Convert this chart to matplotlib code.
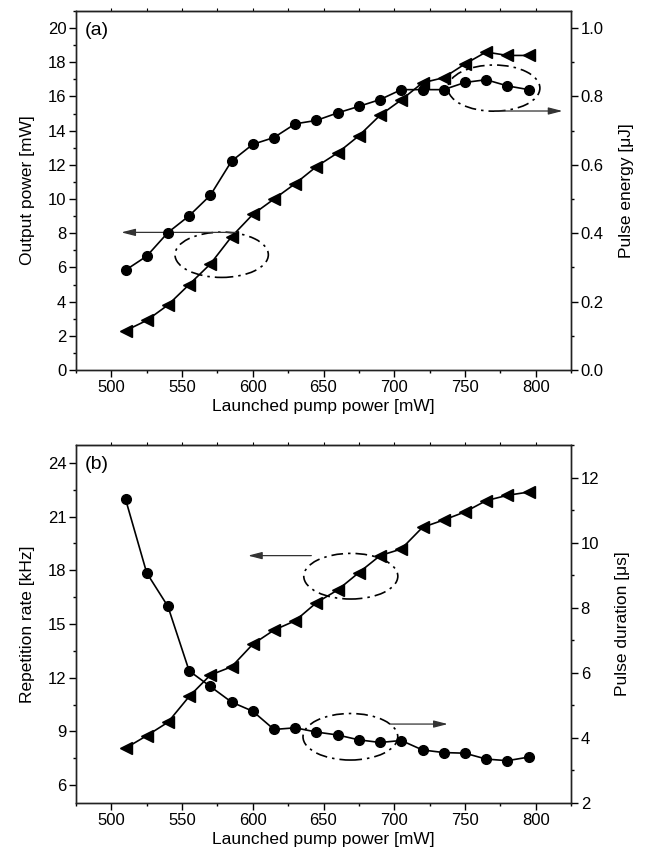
import numpy as np
import matplotlib
matplotlib.use("Agg")
import matplotlib.pyplot as plt
from matplotlib.patches import Ellipse
from matplotlib.ticker import MultipleLocator, FormatStrFormatter

# launched pump power [mW]
pump = [510, 525, 540, 555, 570, 585, 600, 615, 630, 645,
        660, 675, 690, 705, 720, 735, 750, 765, 780, 795]

# (a) output power [mW] (triangles, left) and pulse energy [uJ] (circles, right)
output_power = [2.3, 2.9, 3.8, 5.0, 6.2, 7.8, 9.1, 10.0, 10.9, 11.9,
                12.7, 13.7, 14.9, 15.8, 16.8, 17.1, 17.9, 18.6, 18.4, 18.4]
pulse_energy = [0.292, 0.333, 0.402, 0.451, 0.511, 0.611, 0.660, 0.680, 0.720, 0.730,
                0.752, 0.771, 0.791, 0.820, 0.820, 0.820, 0.841, 0.849, 0.831, 0.820]

# (b) repetition rate [kHz] (triangles, left) and pulse duration [us] (circles, right)
rep_rate = [8.06, 8.76, 9.51, 10.95, 12.15, 12.61, 13.87, 14.66, 15.18, 16.19,
            16.9, 17.87, 18.82, 19.19, 20.4, 20.81, 21.26, 21.89, 22.19, 22.37]
pulse_duration = [11.34, 9.07, 8.04, 6.06, 5.58, 5.10, 4.82, 4.26, 4.31, 4.18,
                  4.09, 3.94, 3.86, 3.92, 3.63, 3.55, 3.53, 3.35, 3.30, 3.41]

plt.rcParams['font.family'] = ['Liberation Sans', 'DejaVu Sans']
plt.rcParams['font.size'] = 12

fig = plt.figure(figsize=(6.47, 8.57), dpi=100)
W, H = 647, 857
ax1 = fig.add_axes([76 / W, 1 - 370 / H, 495 / W, 359 / H])
ax2 = ax1.twinx()
ax3 = fig.add_axes([76 / W, 1 - 803 / H, 495 / W, 358 / H])
ax4 = ax3.twinx()

line_kw = dict(color='k', lw=1.2)
dashdot = (0, (7, 3, 1.5, 3))


def style(ax_l, ax_r, ylim_l, ylim_r, step_l, step_r, fmt_r):
    ax_l.set_xlim(475, 825)
    ax_l.xaxis.set_major_locator(MultipleLocator(50))
    ax_l.xaxis.set_minor_locator(MultipleLocator(25))
    ax_l.set_ylim(*ylim_l)
    ax_r.set_ylim(*ylim_r)
    ax_l.yaxis.set_major_locator(MultipleLocator(step_l))
    ax_l.yaxis.set_minor_locator(MultipleLocator(step_l / 2))
    ax_r.yaxis.set_major_locator(MultipleLocator(step_r))
    ax_r.yaxis.set_minor_locator(MultipleLocator(step_r / 2))
    ax_r.yaxis.set_major_formatter(FormatStrFormatter(fmt_r))
    for a in (ax_l, ax_r):
        a.tick_params(which='major', direction='out', length=5, width=1, pad=2, labelsize=12)
        a.tick_params(which='minor', direction='out', length=2.5, width=1)
        for s in a.spines.values():
            s.set_color('#222222')
            s.set_linewidth(1)
    sec = ax_l.secondary_xaxis('top')
    sec.set_xticks(np.arange(500, 801, 25))
    sec.tick_params(length=2, labeltop=False)
    ax_l.set_xlabel('Launched pump power [mW]', fontsize=12.5, labelpad=3)


def arrow(ax, start, end):
    ax.annotate('', xy=end, xytext=start,
                arrowprops=dict(arrowstyle='-|>,head_length=0.7,head_width=0.18',
                                color='#333333', lw=0.9, shrinkA=0, shrinkB=0))


# ---- (a) ----
ax1.plot(pump, output_power, marker='<', ms=8, **line_kw)
ax2.plot(pump, pulse_energy, marker='o', ms=7, **line_kw)
style(ax1, ax2, (0, 21), (0, 1.05), 2, 0.2, '%.1f')
ax1.set_ylabel('Output power [mW]', fontsize=12.5, labelpad=9)
ax2.set_ylabel('Pulse energy [\u03bcJ]', fontsize=12.5, labelpad=11)
ax1.text(0.018, 0.97, '(a)', transform=ax1.transAxes, ha='left', va='top', fontsize=14)
ax1.add_patch(Ellipse((578, 6.74), 66, 2.65, fill=False, ec='k', lw=1.2, ls=dashdot))
arrow(ax1, (588, 8.05), (507, 8.05))
ax1.add_patch(Ellipse((770.5, 16.49), 65, 2.7, fill=False, ec='k', lw=1.2, ls=dashdot))
arrow(ax1, (771, 15.15), (819, 15.15))

# ---- (b) ----
ax3.plot(pump, rep_rate, marker='<', ms=8, **line_kw)
ax4.plot(pump, pulse_duration, marker='o', ms=7, **line_kw)
style(ax3, ax4, (5, 25), (2, 13), 3, 2, '%d')
ax3.set_ylabel('Repetition rate [kHz]', fontsize=12.5, labelpad=9)
ax4.set_ylabel('Pulse duration [\u03bcs]', fontsize=12.5, labelpad=11)
ax3.text(0.018, 0.97, '(b)', transform=ax3.transAxes, ha='left', va='top', fontsize=14)
ax3.add_patch(Ellipse((669.3, 17.67), 66.5, 2.55, fill=False, ec='k', lw=1.2, ls=dashdot))
arrow(ax3, (641.4, 18.82), (596.6, 18.82))
ax3.add_patch(Ellipse((669, 8.70), 67, 2.6, fill=False, ec='k', lw=1.2, ls=dashdot))
arrow(ax3, (697.2, 9.41), (737.9, 9.41))

fig.savefig('out.png', dpi=100)
